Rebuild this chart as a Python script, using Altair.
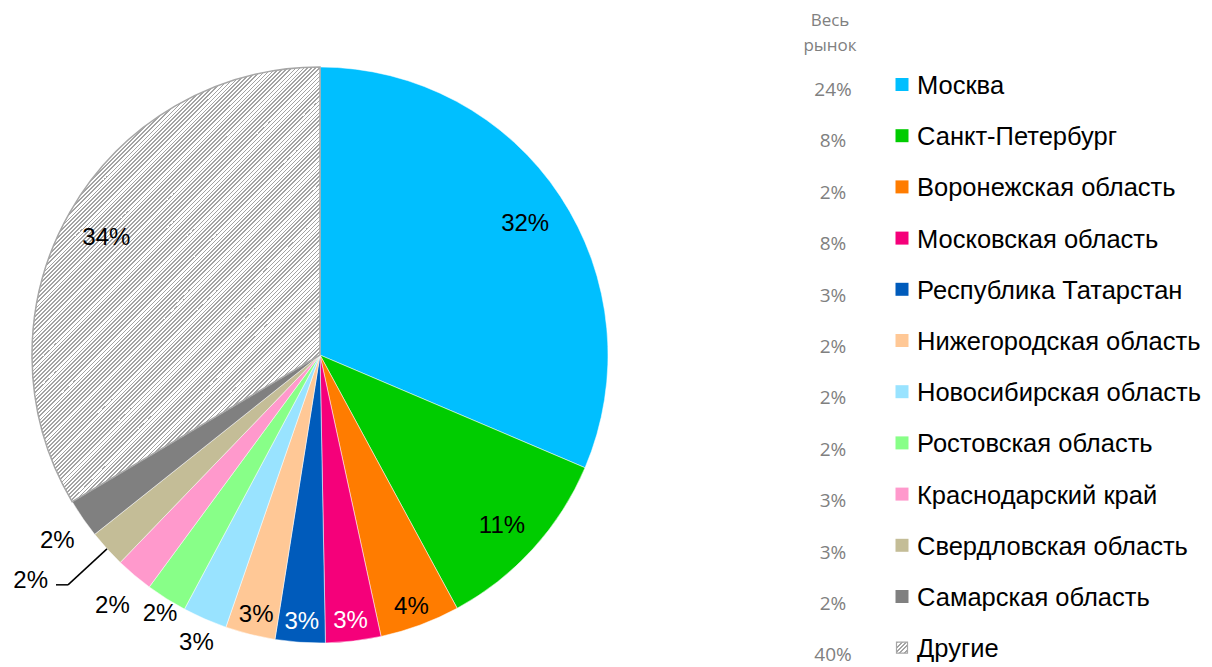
import math
import altair as alt
import pandas as pd

# ---- data ----
regions = ["Москва", "Санкт-Петербург", "Воронежская область", "Московская область",
           "Республика Татарстан", "Нижегородская область", "Новосибирская область",
           "Ростовская область", "Краснодарский край", "Свердловская область",
           "Самарская область", "Другие"]
shares = [31.4, 10.7, 4.5, 3.1, 2.8, 2.8, 2.5, 2.3, 2.1, 2.1, 2.2, 33.5]
share_labels = ["32%", "11%", "4%", "3%", "3%", "3%", "3%", "2%", "2%", "2%", "2%", "34%"]
market_labels = ["24%", "8%", "2%", "8%", "3%", "2%", "2%", "2%", "3%", "3%", "2%", "40%"]
header_lines = ["Весь", "рынок"]

colors = ["#00BFFF", "#00CC00", "#FF7C00", "#F5007A", "#005BBB", "#FFC896",
          "#99E3FF", "#88FF88", "#FF99CC", "#C4BD97", "#808080", "#FFFFFF"]

df = pd.DataFrame({
    "region": regions,
    "share": shares,
    "label": share_labels,
    "market": market_labels,
    "order": list(range(len(regions))),
})
hdf = pd.DataFrame({"t": header_lines, "i": list(range(len(header_lines)))})

CX, CY, R = 312, 347, 288
FONT = "Liberation Sans"

# geometry of the "Другие" sector's bounding box (for a pixel-aligned hatch)
_start = sum(shares[:-1]) / sum(shares) * 2 * math.pi
_bw = R
_bh = (CY - R * math.cos(_start)) - (CY - R)
_n = 181
_L = _n * 2 * math.sqrt(2)
_mu = _L * math.sqrt(2) / (_bw ** 2 + _bh ** 2)


def stripes(n, x2, y2, gray="#a3a3a3", duty=0.45):
    stops = []
    for k in range(n):
        a, b, c = k / n, (k + duty) / n, (k + 1) / n
        stops += [
            alt.GradientStop(offset=round(a, 6), color=gray),
            alt.GradientStop(offset=round(b, 6), color=gray),
            alt.GradientStop(offset=round(b, 6), color="white"),
            alt.GradientStop(offset=round(c, 6), color="white"),
        ]
    return alt.LinearGradient(gradient="linear", stops=stops, x1=0, y1=0, x2=x2, y2=y2)


base = alt.Chart(df).transform_window(
    end="sum(share)", sort=[alt.SortField("order")], frame=[None, 0]
).transform_calculate(
    start="datum.end - datum.share",
    mid="(datum.end - datum.share / 2) / 100 * 2 * PI",
)

theta_scale = alt.Scale(domain=[0, 100], range=[0, 2 * math.pi])

arcs = base.mark_arc(radius=R, stroke="white", strokeWidth=0.5).encode(
    theta=alt.Theta("start:Q", scale=theta_scale),
    theta2="end:Q",
    x=alt.value(CX), y=alt.value(CY),
    color=alt.Color("region:N", scale=alt.Scale(domain=regions, range=colors), legend=None),
)

hatch = base.transform_filter("datum.region == 'Другие'").mark_arc(
    radius=R, fill=stripes(_n, round(_mu * _bw, 6), round(_mu * _bh, 6)),
    stroke="#A6A6A6", strokeWidth=1.5
).encode(
    theta=alt.Theta("start:Q", scale=theta_scale),
    theta2="end:Q",
    x=alt.value(CX), y=alt.value(CY),
)

labels = base.transform_filter("datum.order != 9").transform_calculate(
    r=("datum.share > 10 ? 246 : (datum.share >= 2.7 ? 263 : "
       "(datum.order == 6 ? 309 : (datum.order == 7 ? 300 : (datum.order == 8 ? 322 : 319))))")
).transform_calculate(
    lx=f"{CX} + datum.r * sin(datum.mid)",
    ly=f"{CY} - datum.r * cos(datum.mid)",
).mark_text(font=FONT, fontSize=24, baseline="middle", align="center", dy=5).encode(
    x=alt.X("lx:Q", scale=None, axis=None),
    y=alt.Y("ly:Q", scale=None, axis=None),
    text="label:N",
    color=alt.condition("datum.order == 3 || datum.order == 4", alt.value("white"), alt.value("black")),
)

lead = base.transform_filter("datum.order == 9").transform_calculate(
    ex=f"{CX} + {R} * sin(datum.mid)",
    ey=f"{CY} - {R} * cos(datum.mid)",
).transform_calculate(
    bx="datum.ex - 39", by="datum.ey + 36", hx="datum.ex - 51", tx="datum.ex - 59", ty="datum.ey + 32",
)
lead1 = lead.mark_rule(color="black", strokeWidth=1.5).encode(
    x=alt.X("ex:Q", scale=None, axis=None), y=alt.Y("ey:Q", scale=None, axis=None),
    x2="bx:Q", y2="by:Q",
)
lead2 = lead.mark_rule(color="black", strokeWidth=1.5).encode(
    x=alt.X("bx:Q", scale=None, axis=None), y=alt.Y("by:Q", scale=None, axis=None),
    x2="hx:Q",
)
lead_text = lead.mark_text(font=FONT, fontSize=24, baseline="middle", align="right", color="black").encode(
    x=alt.X("tx:Q", scale=None, axis=None), y=alt.Y("ty:Q", scale=None, axis=None),
    text="label:N",
)

# ---- legend ----
leg = alt.Chart(df).transform_calculate(
    sy="76.5 + datum.order * 51.2",
    ty="78 + datum.order * 51.2",
    gy="82 + datum.order * 51.4",
)
swatch = leg.transform_filter("datum.order != 11").mark_square(size=169, opacity=1).encode(
    x=alt.value(894),
    y=alt.Y("sy:Q", scale=None, axis=None),
    color=alt.Color("region:N", scale=alt.Scale(domain=regions, range=colors), legend=None),
)
swatch_h = leg.transform_filter("datum.order == 11").mark_square(
    size=121, opacity=1, fill=stripes(5, 1, 1), stroke="#A6A6A6", strokeWidth=1.2
).encode(
    x=alt.value(894),
    y=alt.Y("sy:Q", scale=None, axis=None),
)
leg_text = leg.mark_text(font=FONT, fontSize=25.5, align="left", baseline="middle", color="black").encode(
    x=alt.value(909),
    y=alt.Y("ty:Q", scale=None, axis=None),
    text="region:N",
)
gray_text = leg.mark_text(font="Open Sans", fontSize=19, align="center", baseline="middle", color="#808080").encode(
    x=alt.value(825),
    y=alt.Y("gy:Q", scale=None, axis=None),
    text="market:N",
)
header = alt.Chart(hdf).transform_calculate(hy="13 + datum.i * 25").mark_text(
    font="Open Sans", fontSize=17, align="center", baseline="middle", color="#808080"
).encode(
    x=alt.value(822),
    y=alt.Y("hy:Q", scale=None, axis=None),
    text="t:N",
)

chart = alt.layer(
    arcs, hatch, labels, lead1, lead2, lead_text, swatch, swatch_h, leg_text, gray_text, header
).properties(
    width=1196, height=659, padding=0,
    autosize=alt.AutoSizeParams(type="none"),
).configure(background="white", view=alt.ViewConfig(stroke=None))

chart.save("out.html", embed_options={"renderer": "svg", "actions": False})
